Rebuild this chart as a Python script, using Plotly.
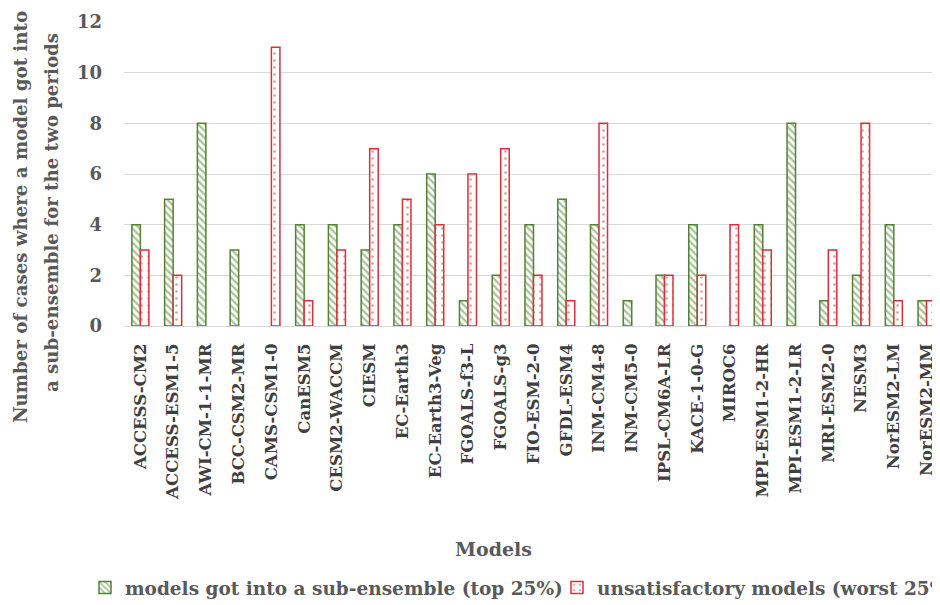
import plotly.graph_objects as go

models = ["ACCESS-CM2", "ACCESS-ESM1-5", "AWI-CM-1-1-MR", "BCC-CSM2-MR", "CAMS-CSM1-0",
          "CanESM5", "CESM2-WACCM", "CIESM", "EC-Earth3", "EC-Earth3-Veg",
          "FGOALS-f3-L", "FGOALS-g3", "FIO-ESM-2-0", "GFDL-ESM4", "INM-CM4-8",
          "INM-CM5-0", "IPSL-CM6A-LR", "KACE-1-0-G", "MIROC6", "MPI-ESM1-2-HR",
          "MPI-ESM1-2-LR", "MRI-ESM2-0", "NESM3", "NorESM2-LM", "NorESM2-MM"]
top25 = [4, 5, 8, 3, 0, 4, 4, 3, 4, 6, 1, 2, 4, 5, 4, 1, 2, 4, 0, 4, 8, 1, 2, 4, 1]
worst25 = [3, 2, 0, 0, 11, 1, 3, 7, 5, 4, 6, 7, 2, 1, 8, 0, 2, 2, 4, 3, 0, 3, 8, 1, 1]
y_ticks = [0, 2, 4, 6, 8, 10, 12]

FONT = "DejaVu Serif"
GRAY = "#595959"
DARK = "#404040"

OFF = 8  # the page body adds an 8px margin around the figure
W, H = 940 - OFF, 605 - OFF
L = 124 - OFF
T = 22 - OFF
PLOT_BOTTOM = 326 - OFF
B = H - PLOT_BOTTOM
plot_w = W - L
plot_h = PLOT_BOTTOM - T


def px_x(page_x):
    return (page_x - OFF - L) / plot_w


def px_y(page_y):
    return (PLOT_BOTTOM - (page_y - OFF)) / plot_h


def hide_zero(vals):
    return [v if v != 0 else None for v in vals]


fig = go.Figure()
fig.add_trace(go.Bar(
    x=models, y=hide_zero(top25), name="<b>models got into a sub-ensemble (top 25%)</b>",
    legend="legend",
    marker=dict(color="white", line=dict(color="#548235", width=1.5),
                pattern=dict(shape="\\", fgcolor="#548235", bgcolor="white",
                             size=5, solidity=0.45)),
))
fig.add_trace(go.Bar(
    x=models, y=hide_zero(worst25), name="<b>unsatisfactory models (worst 25%)</b>",
    legend="legend2",
    marker=dict(color="white", line=dict(color="#d9303a", width=1.5),
                pattern=dict(shape=".", fgcolor="#d9303a", bgcolor="white",
                             size=7, solidity=0.12)),
))

# y-axis title (two lines, as in the reference)
fig.add_annotation(text="<b>Number of cases where a model got into</b>", textangle=-90,
                   xref="paper", yref="paper", x=px_x(20), y=px_y(217),
                   xanchor="center", yanchor="middle", showarrow=False,
                   font=dict(family=FONT, size=18.2, color=GRAY))
fig.add_annotation(text="<b>a sub-ensemble for the two periods</b>", textangle=-90,
                   xref="paper", yref="paper", x=px_x(51), y=px_y(213),
                   xanchor="center", yanchor="middle", showarrow=False,
                   font=dict(family=FONT, size=18.2, color=GRAY))
# x-axis title
fig.add_annotation(text="<b>Models</b>", xref="paper", yref="paper",
                   x=px_x(493), y=px_y(549),
                   xanchor="center", yanchor="middle", showarrow=False,
                   font=dict(family=FONT, size=19, color=GRAY))

legend_common = dict(orientation="h", xanchor="left", y=px_y(588), yanchor="middle",
                     font=dict(family=FONT, size=18.5, color=GRAY), itemwidth=30,
                     bgcolor="rgba(0,0,0,0)")

fig.update_layout(
    width=W, height=H,
    margin=dict(l=L, r=0, t=T, b=B, autoexpand=False),
    paper_bgcolor="white", plot_bgcolor="white",
    barmode="group", bargap=0.48, bargroupgap=0,
    font=dict(family=FONT, color=GRAY, size=16),
    showlegend=True,
    legend=dict(x=px_x(85), **legend_common),
    legend2=dict(x=px_x(557), **legend_common),
    xaxis=dict(
        range=[-0.5, 24.41], tickangle=-90, showgrid=False, automargin=False,
        showline=True, linecolor="#d9d9d9", linewidth=1,
        tickfont=dict(family=FONT, size=16.5, color=DARK, weight="bold"),
        ticks="", ticklabelstandoff=10,
    ),
    yaxis=dict(
        range=[0, 12], tickvals=y_ticks, showgrid=True, gridcolor="#d9d9d9", gridwidth=1.3,
        zeroline=False, showline=False, ticks="", automargin=False,
        tickfont=dict(family=FONT, size=18, color=GRAY, weight="bold"),
        ticklabelstandoff=21,
    ),
)

fig.write_html("out.html")
